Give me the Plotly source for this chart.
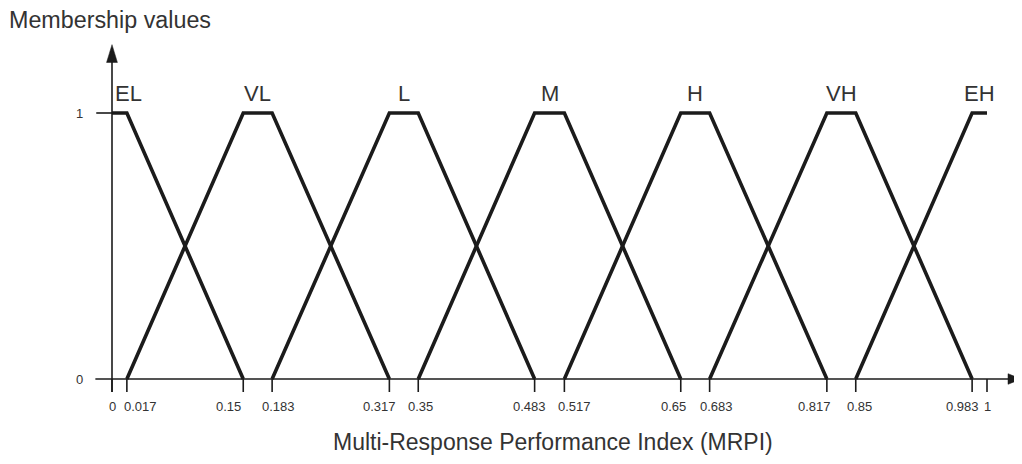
import plotly.graph_objects as go

# Membership function sets (trapezoids): name, x-points, y-points
set_names = ["EL", "VL", "L", "M", "H", "VH", "EH"]
set_x = [
    [0, 0.017, 0.15],
    [0.017, 0.15, 0.183, 0.317],
    [0.183, 0.317, 0.35, 0.483],
    [0.35, 0.483, 0.517, 0.65],
    [0.517, 0.65, 0.683, 0.817],
    [0.683, 0.817, 0.85, 0.983],
    [0.85, 0.983, 1.0],
]
set_y = [
    [1, 1, 0],
    [0, 1, 1, 0],
    [0, 1, 1, 0],
    [0, 1, 1, 0],
    [0, 1, 1, 0],
    [0, 1, 1, 0],
    [0, 1, 1],
]
label_pos = [0.0185, 0.1665, 0.3335, 0.5, 0.6665, 0.8335, 0.9915]

tick_vals = [0, 0.017, 0.15, 0.183, 0.317, 0.35, 0.483, 0.517, 0.65, 0.683, 0.817, 0.85, 0.983, 1]
tick_text = ["0", "0.017", "0.15", "0.183", "0.317", "0.35", "0.483", "0.517", "0.65", "0.683", "0.817", "0.85", "0.983", "1"]
y_ticks = [0, 1]

# styling (label offsets in px)
tick_shift = [0, 14, -15, 6, -10, 2, -5, 10, -7, 7, -12, 4, -10, 0]

LINE = "#1b1b1b"
TXT = "#333333"
FONT = "Liberation Sans, Arial, sans-serif"

fig = go.Figure()
for xs, ys in zip(set_x, set_y):
    fig.add_trace(go.Scatter(x=xs, y=ys, mode="lines",
                             line=dict(color=LINE, width=3.6),
                             hoverinfo="skip", showlegend=False))

AX_W = 1.6
shapes = []
# x axis line
shapes.append(dict(type="line", xref="x", yref="y", x0=-0.019, x1=1.03, y0=0, y1=0,
                   line=dict(color=LINE, width=AX_W)))
# y axis line
shapes.append(dict(type="line", xref="x", yref="y", x0=0, x1=0, y0=-0.049, y1=1.2,
                   line=dict(color=LINE, width=AX_W)))
# x tick marks
for v in tick_vals:
    shapes.append(dict(type="line", xref="x", yref="y", x0=v, x1=v, y0=0, y1=-0.049,
                       line=dict(color=LINE, width=AX_W)))
# y tick mark for 1
shapes.append(dict(type="line", xref="x", yref="y", x0=-0.018, x1=0, y0=1, y1=1,
                   line=dict(color=LINE, width=AX_W)))
# arrowheads (filled triangles)
shapes.append(dict(type="path", xref="x", yref="y",
                   path="M -0.0062,1.19 L 0.0062,1.19 L 0,1.257 Z",
                   fillcolor=LINE, line=dict(color=LINE, width=0.5)))
shapes.append(dict(type="path", xref="x", yref="y",
                   path="M 1.024,0.02 L 1.024,-0.02 L 1.039,0 Z",
                   fillcolor=LINE, line=dict(color=LINE, width=0.5)))

annotations = []
for v, t, s in zip(tick_vals, tick_text, tick_shift):
    annotations.append(dict(x=v, y=-0.102, xref="x", yref="y", text=t, showarrow=False,
                            xanchor="center", yanchor="middle", xshift=s,
                            font=dict(family=FONT, size=13, color=TXT)))
for v in y_ticks:
    annotations.append(dict(x=-0.0366, y=v, xref="x", yref="y", text=str(v), showarrow=False,
                            xanchor="center", yanchor="middle",
                            font=dict(family=FONT, size=13, color=TXT)))
for n, p in zip(set_names, label_pos):
    annotations.append(dict(x=p, y=1.072, xref="x", yref="y", text=n, showarrow=False,
                            xanchor="center", yanchor="middle",
                            font=dict(family=FONT, size=22, color=TXT)))
# titles
annotations.append(dict(x=-0.117, y=1.35, xref="x", yref="y", xanchor="left", xshift=-3,
                        yanchor="middle", text="Membership values", showarrow=False,
                        font=dict(family=FONT, size=23.3, color=TXT)))
annotations.append(dict(x=0.504, y=-0.237, xref="x", yref="y",
                        text="Multi-Response Performance Index (MRPI)",
                        showarrow=False, xanchor="center", yanchor="middle",
                        font=dict(family=FONT, size=23, color=TXT)))

fig.update_layout(
    width=1014, height=456,
    margin=dict(l=0, r=0, t=0, b=0, pad=0),
    paper_bgcolor="white", plot_bgcolor="white",
    xaxis=dict(range=[-0.118857, 1.04], visible=False, fixedrange=True,
               showgrid=False, zeroline=False),
    yaxis=dict(range=[-0.319549, 1.394737], visible=False, fixedrange=True,
               showgrid=False, zeroline=False),
    shapes=shapes, annotations=annotations, showlegend=False,
)

fig.write_html("out.html")
